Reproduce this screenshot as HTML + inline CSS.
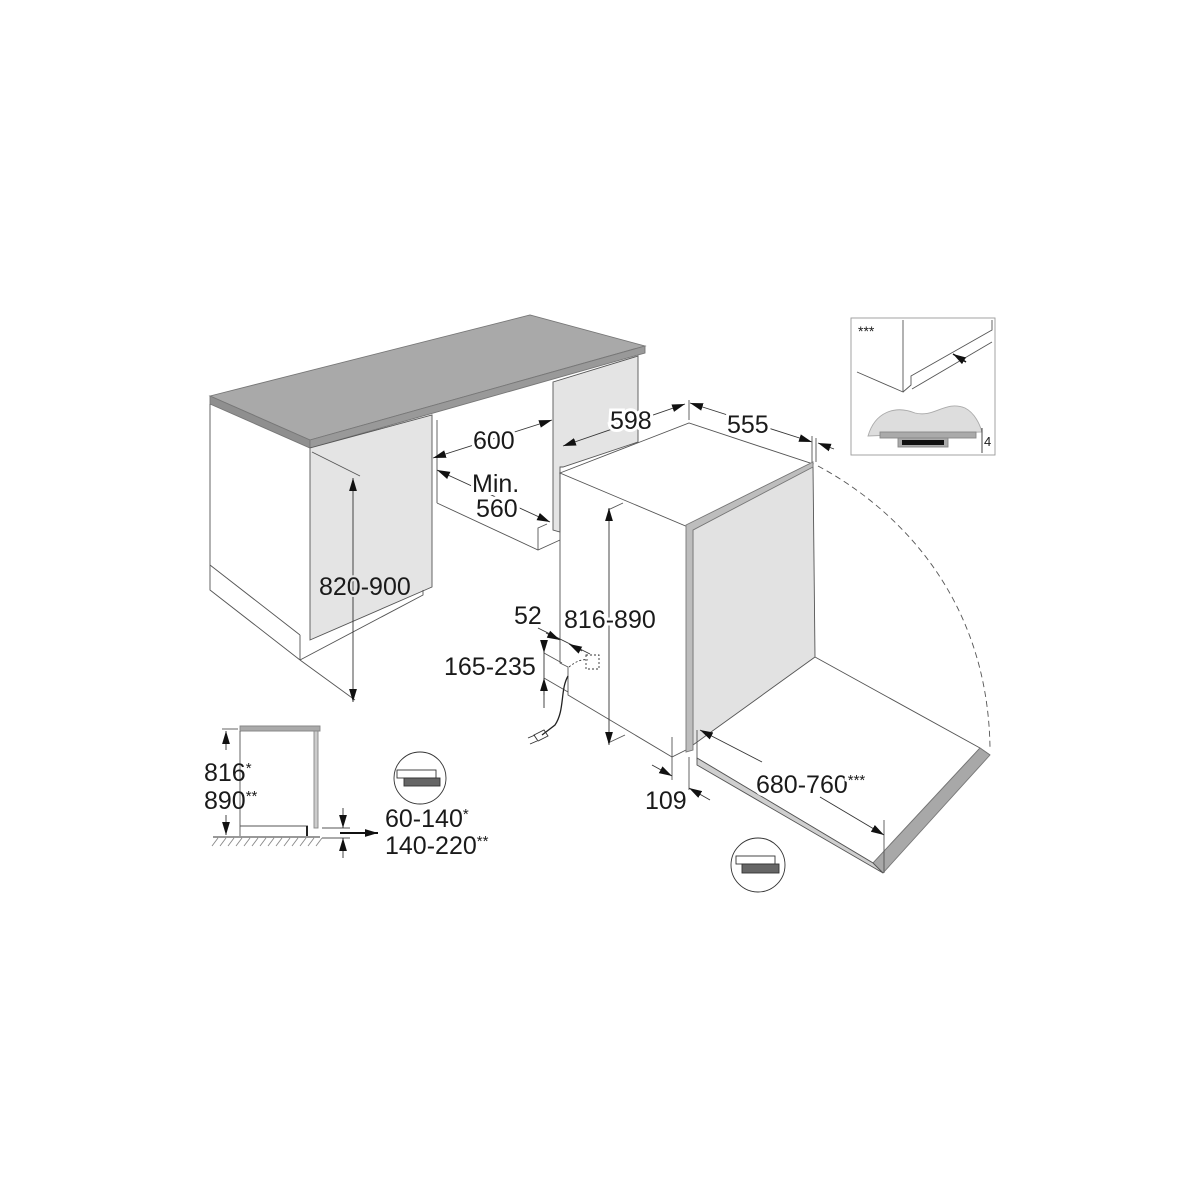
<!DOCTYPE html>
<html><head><meta charset="utf-8"><style>
html,body{margin:0;padding:0;background:#fff}
svg{display:block}
text{font-family:"Liberation Sans",sans-serif;fill:#1a1a1a}
</style></head><body>
<svg width="1200" height="1200" viewBox="0 0 1200 1200" xmlns="http://www.w3.org/2000/svg">
<defs>
<marker id="a" viewBox="0 0 10 10" refX="10" refY="5" markerUnits="userSpaceOnUse" markerWidth="13" markerHeight="13" orient="auto-start-reverse"><path d="M0,2 L10,5 L0,8z" fill="#111"/></marker>
</defs>
<g stroke="#555" stroke-width="0.9" fill="none">
<!-- countertop -->
<polygon points="210,396 530,315 645,346 310,440" fill="#a9a9a9" stroke="#777"/>
<polygon points="210,396 310,440 310,448 210,404" fill="#8f8f8f" stroke="#777"/>
<polygon points="310,440 645,346 645,353 310,448" fill="#999" stroke="#777"/>
<polyline points="210,404 210,590 300,660"/>
<line x1="210" y1="565" x2="300" y2="635"/>
<line x1="300" y1="635" x2="300" y2="660"/>
<polygon points="310,448 432,415 432,587 310,640" fill="#e4e4e4"/>
<polyline points="300,660 423,595 423,590"/>
<line x1="437" y1="420" x2="437" y2="503"/>
<polyline points="437,503 538,550 560,540"/>
<polyline points="538,550 538,528 547,524"/>
<polygon points="553,382 638,356 638,442 563,467 560,467 560,532 553,530" fill="#e4e4e4"/>
<polygon points="560,473 689,423 813,464 688,527" fill="#fff"/>
<polyline points="560,473 560,663 568,667 568,695 672,757"/>
<polyline points="672,737 672,757 690,748"/>
<polygon points="693,530 813,466 815,657 693,745" fill="#e2e2e2"/>
<polygon points="686,525 813,462 813,467 693,530 693,750 686,752" fill="#bdbdbd" stroke="#777"/>
<polyline points="815,657 980,748 990,755"/>
<polyline points="697,758 873,863 980,748"/>
<polygon points="980,748 990,755 883,873 873,863" fill="#a8a8a8" stroke="#777"/>
<polygon points="697,758 873,863 883,873 697,765" fill="#cfcfcf"/>
<path d="M818,466 C900,510 988,600 990,748" stroke-dasharray="6,4"/>
<line x1="312" y1="452" x2="360" y2="476"/>
<line x1="300" y1="660" x2="355" y2="700"/>
<line x1="353" y1="478" x2="353" y2="702" stroke="#333" marker-start="url(#a)" marker-end="url(#a)"/>
<line x1="433" y1="458" x2="552" y2="420" stroke="#333" marker-start="url(#a)" marker-end="url(#a)"/>
<line x1="437" y1="470" x2="550" y2="522" stroke="#333" marker-start="url(#a)" marker-end="url(#a)"/>
<line x1="563" y1="446" x2="685" y2="404" stroke="#333" marker-start="url(#a)" marker-end="url(#a)"/>
<line x1="689" y1="400" x2="689" y2="420"/>
<line x1="690" y1="403" x2="812" y2="442" stroke="#333" marker-start="url(#a)" marker-end="url(#a)"/>
<line x1="834" y1="449" x2="818" y2="443" stroke="#333" marker-end="url(#a)"/>
<line x1="812" y1="436" x2="812" y2="462"/><line x1="816" y1="438" x2="816" y2="462"/>
<line x1="608" y1="510" x2="623" y2="503"/>
<line x1="608" y1="743" x2="625" y2="735"/>
<line x1="609" y1="508" x2="609" y2="745" stroke="#333" marker-start="url(#a)" marker-end="url(#a)"/>
<line x1="538" y1="628" x2="590" y2="654" stroke="#333"/>
<line x1="546" y1="633" x2="560" y2="640" stroke="#333" marker-end="url(#a)" />
<line x1="582" y1="651" x2="569" y2="644" stroke="#333" marker-end="url(#a)"/>
<line x1="544" y1="640" x2="544" y2="708" stroke="#333"/>
<line x1="544" y1="640" x2="544" y2="653" stroke="#333" marker-end="url(#a)"/>
<line x1="544" y1="695" x2="544" y2="678" stroke="#333" marker-end="url(#a)"/>
<line x1="544" y1="653" x2="562" y2="663"/>
<line x1="544" y1="678" x2="568" y2="692"/>
<rect x="586" y="655" width="13" height="14" stroke-dasharray="2,2" stroke="#333"/>
<path d="M569,667 Q580,658 588,660" stroke-dasharray="2,2" stroke="#333"/>
<path d="M568,676 C560,690 565,710 555,725 L542,735" stroke="#222" stroke-width="1.3"/>
<path d="M534,735 l10,-5 l4,6 l-10,5z M528,738 l7,-3 M530,744 l7,-3" stroke="#333"/>
<line x1="672" y1="757" x2="672" y2="780"/>
<line x1="689" y1="757" x2="689" y2="790"/>
<line x1="652" y1="765" x2="672" y2="776" stroke="#333" marker-end="url(#a)"/>
<line x1="710" y1="800" x2="689" y2="788" stroke="#333" marker-end="url(#a)"/>
<line x1="697" y1="730" x2="697" y2="760"/>
<line x1="884" y1="820" x2="884" y2="873"/>
<line x1="700" y1="730" x2="762" y2="762" stroke="#333" marker-start="url(#a)"/>
<line x1="820" y1="797" x2="884" y2="835" stroke="#333" marker-end="url(#a)"/>
<rect x="851" y="318" width="144" height="137" fill="#fff" stroke="#999"/>
<polyline points="903,320 903,392 857,372"/>
<polyline points="903,392 911,385 911,376 992,330 992,320"/>
<polyline points="912,389 992,342"/>
<path d="M868,436 C875,412 895,405 915,413 C935,418 945,400 965,408 C975,413 980,425 982,432 Z" fill="#ddd" stroke="#aaa"/>
<rect x="880" y="432" width="96" height="6" fill="#aaa" stroke="#888"/>
<rect x="898" y="438" width="50" height="9" fill="#aaa" stroke="#888"/>
<rect x="902" y="440" width="42" height="5" fill="#111" stroke="none"/>
<line x1="982" y1="428" x2="982" y2="453" stroke="#333"/>
<line x1="966" y1="362" x2="953" y2="354" stroke="#111" stroke-width="1.5" marker-end="url(#a)"/>
<polygon points="240,726 320,726 320,731 240,731" fill="#aaa" stroke="#888"/>
<rect x="314" y="731" width="4" height="97" fill="#ccc" stroke="#888"/>
<line x1="240" y1="731" x2="240" y2="836"/>
<line x1="240" y1="826" x2="308" y2="826"/>
<line x1="307" y1="826" x2="307" y2="836" stroke="#222" stroke-width="2"/>
<line x1="213" y1="837" x2="320" y2="837" stroke="#333"/>
<g stroke="#888"><path d="M218,838 l-6,8 M226,838 l-6,8 M234,838 l-6,8 M242,838 l-6,8 M250,838 l-6,8 M258,838 l-6,8 M266,838 l-6,8 M274,838 l-6,8 M282,838 l-6,8 M290,838 l-6,8 M298,838 l-6,8 M306,838 l-6,8 M314,838 l-6,8 M322,838 l-6,8"/></g>
<line x1="222" y1="729" x2="238" y2="729"/>
<line x1="226" y1="731" x2="226" y2="750" stroke="#333" marker-start="url(#a)"/>
<line x1="226" y1="815" x2="226" y2="835" stroke="#333" marker-end="url(#a)"/>
<line x1="322" y1="828" x2="350" y2="828"/>
<line x1="322" y1="838" x2="350" y2="838"/>
<line x1="343" y1="808" x2="343" y2="828" stroke="#333" marker-end="url(#a)"/>
<line x1="343" y1="858" x2="343" y2="838" stroke="#333" marker-end="url(#a)"/>
<line x1="340" y1="833" x2="378" y2="833" stroke="#111" stroke-width="2" marker-end="url(#a)"/>
<circle cx="420" cy="778" r="26" stroke="#333"/>
<rect x="397" y="770" width="39" height="8" fill="#fff" stroke="#333"/>
<rect x="404" y="778" width="36" height="8" fill="#666" stroke="#333"/>
<circle cx="758" cy="865" r="27" stroke="#333"/>
<rect x="736" y="856" width="39" height="8" fill="#fff" stroke="#333"/>
<rect x="742" y="864" width="37" height="9" fill="#666" stroke="#333"/>
</g>
<g font-size="25">
<text x="319" y="595" style="paint-order:stroke" stroke="#e4e4e4" stroke-width="4">820-900</text>
<text x="473" y="449" style="paint-order:stroke" stroke="#fff" stroke-width="6">600</text>
<text x="472" y="492" style="paint-order:stroke" stroke="#fff" stroke-width="6">Min.</text>
<text x="476" y="517" style="paint-order:stroke" stroke="#fff" stroke-width="6">560</text>
<text x="610" y="429" style="paint-order:stroke" stroke="#fff" stroke-width="6">598</text>
<text x="727" y="433" style="paint-order:stroke" stroke="#fff" stroke-width="6">555</text>
<text x="564" y="628" style="paint-order:stroke" stroke="#fff" stroke-width="6">816-890</text>
<text x="514" y="624">52</text>
<text x="444" y="675">165-235</text>
<text x="645" y="809">109</text>
<text x="756" y="793" style="paint-order:stroke" stroke="#fff" stroke-width="6">680-760<tspan font-size="15" dy="-8">***</tspan></text>
<text x="204" y="781">816<tspan font-size="15" dy="-8">*</tspan></text>
<text x="204" y="809">890<tspan font-size="15" dy="-8">**</tspan></text>
<text x="385" y="827">60-140<tspan font-size="15" dy="-8">*</tspan></text>
<text x="385" y="854">140-220<tspan font-size="15" dy="-8">**</tspan></text>
</g>
<text x="858" y="336" font-size="14">***</text>
<text x="984" y="446" font-size="13">4</text>
</svg>
</body></html>
